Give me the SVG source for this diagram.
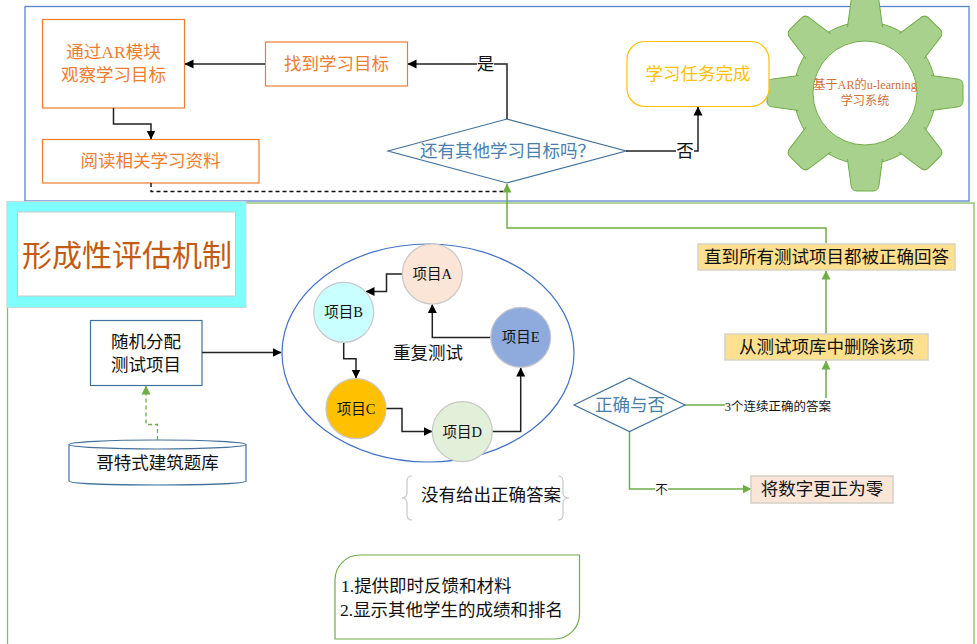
<svg xmlns="http://www.w3.org/2000/svg" width="977" height="644" viewBox="0 0 977 644">
<style>
text{font-family:"Liberation Serif","Noto Sans CJK SC",serif;font-size:17.500px;text-anchor:middle;fill:#111}
.o{fill:#fff;stroke:#ed7d31;stroke-width:1.2}
.ot{fill:#ed7d31}
.d{fill:#fff;stroke:#41719c;stroke-width:1.2}
.dt{fill:#4a7eab}
.c{stroke:#c8c8c8;stroke-width:1.2}
.ct{font-size:14.500px}
.y{fill:#ffe08f;stroke:#d4d4c4;stroke-width:1.5}
.k{fill:none;stroke:#222;stroke-width:1.5}
.g{fill:none;stroke:#70ad47;stroke-width:1.5}
.gear{fill:#a9d18e;stroke:#70ad47;stroke-width:1}
.lb{fill:#fff}
</style>
<defs>
<marker id="ak" markerUnits="userSpaceOnUse" markerWidth="9" markerHeight="10" refX="8.500" refY="5" orient="auto"><path d="M0,0.500L9,5L0,9.500z" fill="#000"/></marker>
<marker id="ag" markerUnits="userSpaceOnUse" markerWidth="9" markerHeight="10" refX="8.500" refY="5" orient="auto"><path d="M0,0.500L9,5L0,9.500z" fill="#70ad47"/></marker>
<path id="tooth" class="gear" d="M66,-17.500L92,-14Q98,-13.500 98,-8L98,8Q98,13.500 92,14L66,17.500"/>
</defs>
<rect id="top-panel" x="25" y="6.500" width="944" height="194.500" fill="#fff" stroke="#5b84d0" stroke-width="1.300"/>
<rect id="bottom-panel" x="7.500" y="203" width="966.500" height="450" fill="#fff" stroke="#86bd62" stroke-width="1.300"/>

<g id="gear">
<circle cx="865" cy="93" r="71" class="gear"/>
<g transform="translate(865 93)">
<use href="#tooth"/>
<use href="#tooth" transform="rotate(45)"/>
<use href="#tooth" transform="rotate(90)"/>
<use href="#tooth" transform="rotate(135)"/>
<use href="#tooth" transform="rotate(180)"/>
<use href="#tooth" transform="rotate(225)"/>
<use href="#tooth" transform="rotate(270)"/>
<use href="#tooth" transform="rotate(315)"/>
</g>
<circle cx="865" cy="93" r="52" fill="#fff" stroke="#70ad47"/>
<text x="865" y="89" style="font-size:12.200px;fill:#cf6f3a">基于AR的u-learning</text>
<text x="865" y="105" style="font-size:12.200px;fill:#cf6f3a">学习系统</text>
</g>

<g id="n-observe"><rect class="o" x="42.500" y="19.500" width="142" height="88.500"/><text class="ot" x="113.500" y="58">通过AR模块</text><text class="ot" x="113.500" y="81">观察学习目标</text></g>
<g id="n-find"><rect class="o" x="265.500" y="42" width="142" height="44"/><text class="ot" x="336.500" y="70">找到学习目标</text></g>
<g id="n-read"><rect class="o" x="42.500" y="139.500" width="216.500" height="43.500"/><text class="ot" x="150.500" y="167">阅读相关学习资料</text></g>
<g id="n-more"><path class="d" d="M388,151L507,119L626,151L507,183z"/><text class="dt" x="420" y="157" style="text-anchor:start">还有其他学习目标吗？</text></g>
<g id="n-done"><rect x="627" y="41.500" width="142" height="65" rx="18" fill="#fff" stroke="#ffc000" stroke-width="1.200"/><text x="698" y="80" style="fill:#ffc000">学习任务完成</text></g>

<g id="n-title"><rect x="7" y="201.500" width="239" height="106" fill="#7fffff" stroke="#c8d8d8"/><rect x="17.500" y="212" width="218" height="84" fill="#fff" stroke="#c8c8c8"/><text x="127" y="266" style="font-size:30px;fill:#c55a11">形成性评估机制</text></g>

<g id="n-assign"><rect class="d" x="90.500" y="320.500" width="111.500" height="65"/><text x="146" y="348">随机分配</text><text x="146" y="371">测试项目</text></g>
<g id="n-bank"><path class="d" d="M69,444.500V481C69,483.500 108,485 157.500,485S246,483.500 246,481V444.500"/><ellipse class="d" cx="157.500" cy="444.500" rx="88.500" ry="4.500"/><text x="157.500" y="469">哥特式建筑题库</text></g>

<g id="n-loop"><ellipse cx="428" cy="353" rx="146" ry="109" fill="#fff" stroke="#4472c4" stroke-width="1.200"/><text x="428" y="359">重复测试</text></g>

<g id="connectors">
<path class="k" d="M265,64H185" marker-end="url(#ak)"/>
<path class="k" d="M507,119V64H408" marker-end="url(#ak)"/>
<rect class="lb" x="477" y="55" width="17" height="18"/>
<text x="485.500" y="70">是</text>
<path class="k" d="M113.500,108V124H151V139" marker-end="url(#ak)"/>
<path class="k" d="M626,151H698V107" marker-end="url(#ak)"/>
<rect class="lb" x="676" y="142" width="18" height="18"/>
<text x="685" y="157">否</text>
<path d="M151,183V191.500H503" fill="none" stroke="#111" stroke-width="1.400" stroke-dasharray="4 3"/>
<path class="g" d="M826,243V228H507V184" marker-end="url(#ag)"/>
<path class="g" d="M826,334V271" marker-end="url(#ag)"/>
<path class="g" d="M685,405H826V361" marker-end="url(#ag)"/>
<rect class="lb" x="725" y="398" width="106" height="15"/>
<text x="778" y="410.500" style="font-size:12.500px">3个连续正确的答案</text>
<path class="g" d="M629.500,431.500V489H751" marker-end="url(#ag)"/>
<rect class="lb" x="655" y="482" width="13" height="14"/>
<text x="661.500" y="494" style="font-size:12.500px">不</text>
<path d="M157.500,440V424.500H146V386" fill="none" stroke="#70ad47" stroke-width="1.300" stroke-dasharray="4 3" marker-end="url(#ag)"/>
<path class="k" d="M202,352.500H281" marker-end="url(#ak)"/>
<path class="k" d="M402,274H386.500V291.500H366" marker-end="url(#ak)"/>
<path class="k" d="M343.700,342.500V358.700H356V378" marker-end="url(#ak)"/>
<path class="k" d="M386,408.500H402V431.500H432" marker-end="url(#ak)"/>
<path class="k" d="M492,431.500H520.700V368" marker-end="url(#ak)"/>
<path class="k" d="M490.700,337.500H432.300V304.500" marker-end="url(#ak)"/>
</g>

<g id="item-a"><circle class="c" cx="432.300" cy="274" r="30" fill="#fbe5d6"/><text class="ct" x="432.300" y="279">项目A</text></g>
<g id="item-b"><circle class="c" cx="343.700" cy="312.300" r="30" fill="#c9ffff"/><text class="ct" x="343.700" y="317">项目B</text></g>
<g id="item-c"><circle class="c" cx="356" cy="408.700" r="30" fill="#ffc000"/><text class="ct" x="356" y="413.500">项目C</text></g>
<g id="item-d"><circle class="c" cx="462.300" cy="431.700" r="30" fill="#e2efd9"/><text class="ct" x="462.300" y="436.500">项目D</text></g>
<g id="item-e"><circle class="c" cx="520.700" cy="337.300" r="30" fill="#8faadc"/><text class="ct" x="520.700" y="342">项目E</text></g>

<g id="n-noanswer"><path d="M412,476Q407,476 407,481V493Q407,498 402,498Q407,498 407,503V515Q407,520 412,520M558,476Q563,476 563,481V493Q563,498 569,498Q563,498 563,503V515Q563,520 558,520" fill="none" stroke="#c8c8c8" stroke-width="1.200"/><text x="491" y="501">没有给出正确答案</text></g>
<g id="n-check"><path class="d" d="M574,405L629.500,378L685,405L629.500,431.500z"/><text class="dt" x="630" y="411">正确与否</text></g>
<g id="n-all"><rect class="y" x="698" y="244" width="257" height="26"/><text x="826.500" y="263">直到所有测试项目都被正确回答</text></g>
<g id="n-remove"><rect class="y" x="725" y="334" width="203" height="26"/><text x="826.500" y="353">从测试项库中删除该项</text></g>
<g id="n-zero"><rect x="751" y="476" width="142" height="27" fill="#fbe5d6" stroke="#d4d0c8" stroke-width="1.500"/><text x="822" y="495">将数字更正为零</text></g>
<g id="n-note"><path d="M360,555H579.500V614A25,25 0 0 1 554.500,639H335V580A25,25 0 0 1 360,555z" fill="#fff" stroke="#70ad47" stroke-width="1.200"/><text x="341" y="592" style="text-anchor:start">1.提供即时反馈和材料</text><text x="340" y="616" style="text-anchor:start">2.显示其他学生的成绩和排名</text></g>
</svg>
